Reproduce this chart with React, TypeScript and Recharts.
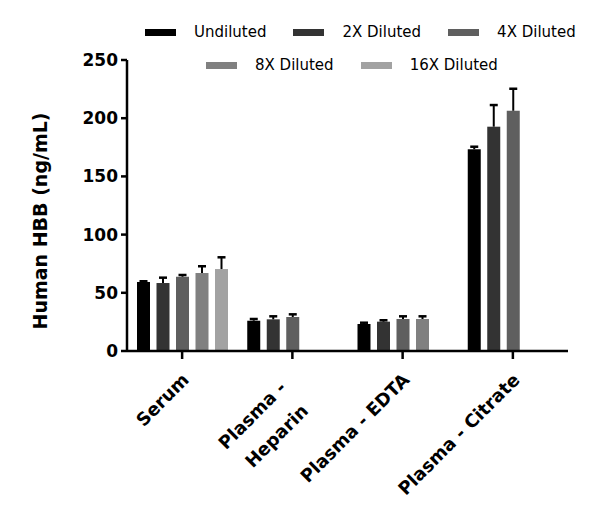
import React from 'react';
import { BarChart, Bar, XAxis, YAxis, Legend } from 'recharts';

const categories = ['Serum', 'Plasma - Heparin', 'Plasma - EDTA', 'Plasma - Citrate'];
const seriesNames = ['Undiluted', '2X Diluted', '4X Diluted', '8X Diluted', '16X Diluted'];
const seriesColors = ['#000000', '#333333', '#5f5f5f', '#808080', '#a2a2a2'];

const undiluted = [59.3, 26.0, 23.2, 173.3];
const undilutedErr = [0.6, 1.5, 1.1, 2.2];
const diluted2x = [58.4, 27.2, 25.2, 192.7];
const diluted2xErr = [4.6, 2.6, 1.2, 18.6];
const diluted4x = [63.8, 29.2, 27.5, 206.4];
const diluted4xErr = [1.5, 2.3, 2.3, 18.9];
const diluted8x = [67.0, null, 27.5, null];
const diluted8xErr = [5.8, null, 2.3, null];
const diluted16x = [70.4, null, null, null];
const diluted16xErr = [10.1, null, null, null];

const yTicks = [0, 50, 100, 150, 200, 250];

const seriesValues = [undiluted, diluted2x, diluted4x, diluted8x, diluted16x];
const seriesErrors = [undilutedErr, diluted2xErr, diluted4xErr, diluted8xErr, diluted16xErr];

const data = categories.map((c, i) => {
  const row: any = { name: c };
  seriesValues.forEach((vals, s) => {
    row['s' + s] = vals[i];
    row['e' + s] = seriesErrors[s][i];
  });
  return row;
});

const FONT = '"DejaVu Sans", sans-serif';

function makeShape(s: number) {
  return (props: any) => {
    const { x, y, width, height, payload } = props;
    const v = payload['s' + s];
    const err = payload['e' + s];
    if (v == null || !height) return null;
    const pxPerUnit = height / v;
    const errPx = (err || 0) * pxPerUnit;
    const cx = x + width / 2;
    return (
      <g>
        <rect x={x} y={y} width={width} height={height} fill={seriesColors[s]} />
        {errPx > 0 && (
          <g stroke="#000" strokeWidth={2}>
            <line x1={cx} x2={cx} y1={y} y2={y - errPx} />
            <line x1={cx - 4} x2={cx + 4} y1={y - errPx} y2={y - errPx} strokeWidth={2.5} />
          </g>
        )}
      </g>
    );
  };
}

const XTick = (props: any) => {
  const { x, payload } = props;
  const v: string = payload.value;
  const style = { fontFamily: FONT, fontWeight: 'bold' as const, fontSize: 18, fill: '#000' };
  if (v === 'Plasma - Heparin') {
    return (
      <g>
        <text transform={`translate(${x - 5},389) rotate(-45)`} textAnchor="end" {...style}>Plasma -</text>
        <text transform={`translate(${x + 17},412) rotate(-45)`} textAnchor="end" {...style}>Heparin</text>
      </g>
    );
  }
  return (
    <text transform={`translate(${x + 8},381) rotate(-45)`} textAnchor="end" {...style}>{v}</text>
  );
};

const LegendContent = () => {
  const rows = [
    { left: 145, top: 22, items: [0, 1, 2] },
    { left: 206, top: 55, items: [3, 4] },
  ];
  return (
    <div style={{ position: 'relative', width: 600, height: 90 }}>
      {rows.map((r, ri) => (
        <div
          key={ri}
          style={{ position: 'absolute', left: r.left, top: r.top, display: 'flex', alignItems: 'center', height: 20 }}
        >
          {r.items.map((s, k) => (
            <div key={s} style={{ display: 'flex', alignItems: 'center', marginLeft: k === 0 ? 0 : 27 }}>
              <div style={{ width: 31, height: 7, background: seriesColors[s] }} />
              <span style={{ marginLeft: 18, fontFamily: FONT, fontSize: 15, color: '#000', whiteSpace: 'nowrap' }}>
                {seriesNames[s]}
              </span>
            </div>
          ))}
        </div>
      ))}
    </div>
  );
};

export default function App() {
  return (
    <div style={{ position: 'absolute', left: 0, top: 0, width: 600, height: 524, background: '#fff' }}>
      <BarChart
        width={600}
        height={524}
        data={data}
        margin={{ top: 60, right: 32, bottom: 143, left: 67 }}
        barSize={13}
        barGap={6.5}
      >
        <XAxis
          dataKey="name"
          height={30}
          interval={0}
          tick={<XTick />}
          tickSize={8}
          axisLine={{ stroke: '#000', strokeWidth: 2.5 }}
          tickLine={{ stroke: '#000', strokeWidth: 2.5 }}
        />
        <YAxis
          width={60}
          domain={[0, 250]}
          ticks={yTicks}
          interval={0}
          tickSize={6}
          tickMargin={3}
          axisLine={{ stroke: '#000', strokeWidth: 2.5 }}
          tickLine={{ stroke: '#000', strokeWidth: 2.5 }}
          tick={{ fontFamily: FONT, fontWeight: 'bold', fontSize: 17, fill: '#000' }}
          label={{
            value: 'Human HBB (ng/mL)',
            angle: -90,
            position: 'insideLeft',
            offset: 0,
            content: (p: any) => (
              <text
                transform="translate(47,221) rotate(-90)"
                textAnchor="middle"
                fontFamily={FONT}
                fontWeight="bold"
                fontSize={19}
                fill="#000"
              >
                Human HBB (ng/mL)
              </text>
            ),
          }}
        />
        <Legend
          verticalAlign="middle"
          align="center"
          layout="horizontal"
          content={<LegendContent />}
          wrapperStyle={{ top: 0, left: 0, width: 600, height: 90 }}
        />
        {seriesNames.map((n, s) => (
          <Bar key={n} dataKey={'s' + s} name={n} fill={seriesColors[s]} isAnimationActive={false} shape={makeShape(s)} />
        ))}
      </BarChart>
    </div>
  );
}
